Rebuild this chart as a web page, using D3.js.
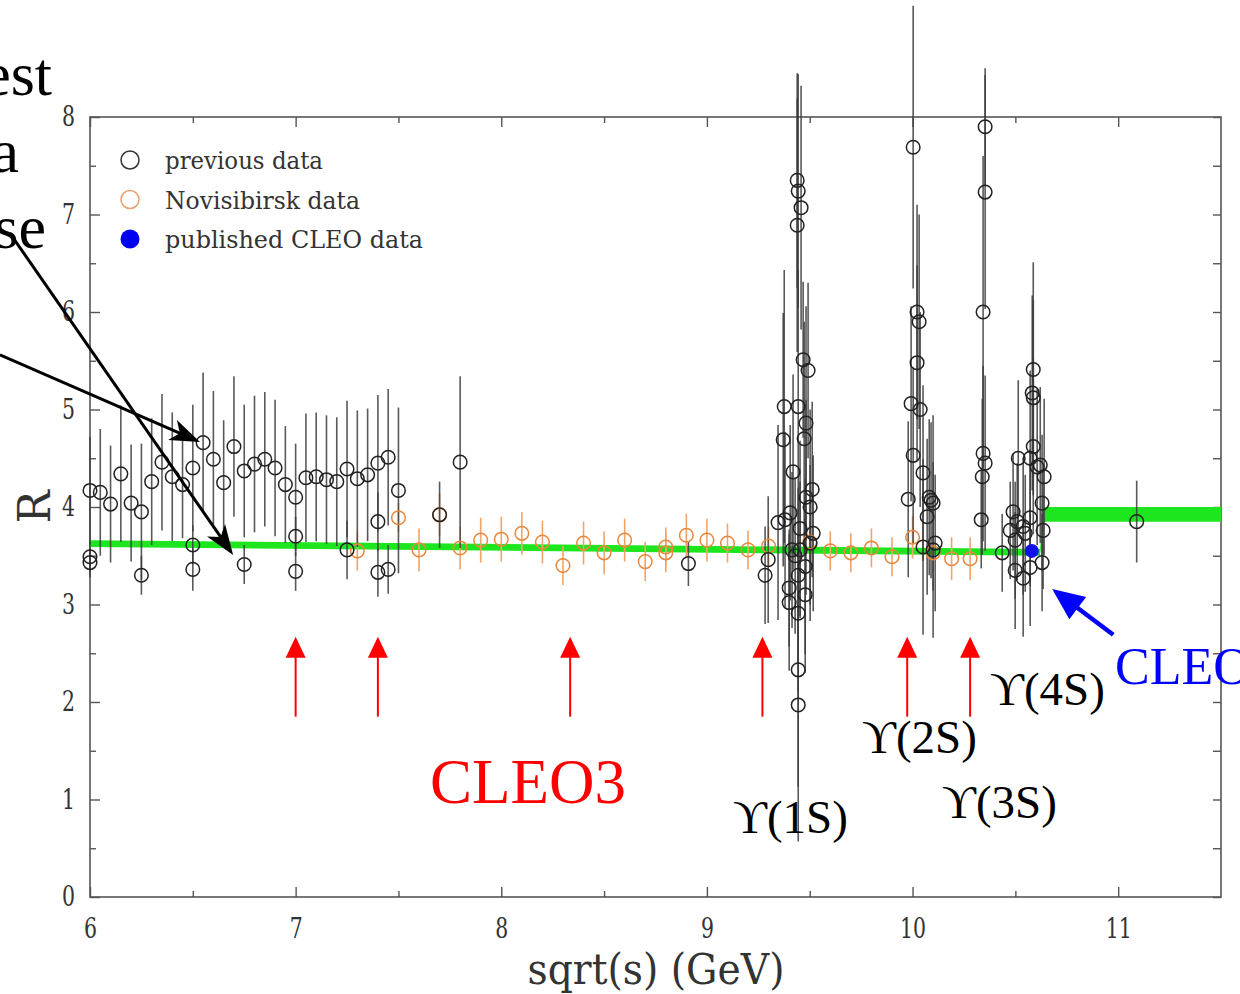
<!DOCTYPE html>
<html>
<head>
<meta charset="utf-8">
<script src="https://cdnjs.cloudflare.com/ajax/libs/d3/7.8.5/d3.min.js"></script>
<style>
	body { margin: 0; background: #fff; }
	svg { display: block; }
</style>
</head>
<body>
<svg id="chart" width="1240" height="994"></svg>
<script>
// previous data (black open circles)
const prevX = [
	6.00, 6.00, 6.00, 6.05, 6.10, 6.15, 6.20, 6.25, 6.25, 6.30, 6.35, 6.40, 6.45, 6.50, 6.50, 6.50,
	6.55, 6.60, 6.65, 6.70, 6.75, 6.75, 6.80, 6.85, 6.90, 6.95, 7.00, 7.00, 7.00, 7.05, 7.10, 7.15,
	7.20, 7.25, 7.25, 7.30, 7.35, 7.40, 7.40, 7.40, 7.45, 7.45, 7.50, 7.70, 7.80, 8.91,
	// Y(1S)
	9.283, 9.298, 9.346, 9.371, 9.376, 9.380, 9.400, 9.400, 9.405, 9.414, 9.419, 9.429, 9.439, 9.444,
	9.439, 9.458, 9.444, 9.444, 9.444, 9.444, 9.444, 9.453, 9.453, 9.468, 9.473, 9.478, 9.478, 9.482,
	9.482, 9.492, 9.502, 9.502, 9.512, 9.517,
	// Y(2S)
	10.003, 10.022, 10.032, 10.022, 9.993, 10.037, 10.003, 10.051, 9.979, 10.081, 10.090, 10.071,
	10.110, 10.051, 10.100, 10.100,
	// Y(3S)
	10.353, 10.353, 10.343, 10.343, 10.353, 10.339, 10.334,
	// Y(4S) and above
	10.436, 10.475, 10.489, 10.499, 10.499, 10.509, 10.514, 10.538, 10.538, 10.548, 10.572, 10.572,
	10.572, 10.582, 10.587, 10.587, 10.587, 10.606, 10.621, 10.630, 10.630, 10.635, 10.640, 11.090
];
const prevR = [
	4.17, 3.49, 3.43, 4.15, 4.03, 4.34, 4.04, 3.95, 3.30, 4.26, 4.46, 4.31, 4.23, 4.40, 3.61, 3.36,
	4.66, 4.49, 4.25, 4.62, 4.37, 3.41, 4.44, 4.49, 4.40, 4.23, 4.10, 3.70, 3.34, 4.30, 4.31, 4.28,
	4.26, 4.39, 3.56, 4.29, 4.33, 4.45, 3.85, 3.33, 4.51, 3.36, 4.17, 3.92, 4.46, 3.42,
	3.30, 3.46, 3.84, 4.69, 5.03, 3.87, 3.17, 3.02, 3.94, 3.56, 4.36, 3.50, 7.35, 7.24,
	6.89, 7.07, 5.03, 3.30, 2.91, 2.33, 1.97, 3.78, 3.56, 5.51, 4.70, 3.39, 3.10, 4.86,
	4.10, 5.40, 4.00, 3.63, 4.18, 3.73,
	7.69, 6.00, 5.90, 5.48, 5.06, 5.00, 4.53, 4.35, 4.08, 4.10, 4.07, 3.90,
	3.63, 3.59, 3.56, 4.04,
	7.90, 7.23, 6.00, 4.55, 4.45, 4.31, 3.87,
	3.53, 3.76, 3.95, 3.66, 3.35, 3.85, 4.50, 3.80, 3.27, 3.73, 4.50, 3.89,
	3.38, 5.17, 5.12, 5.41, 4.62, 4.41, 4.43, 4.04, 3.43, 3.76, 4.31, 3.85
];
const prevErr = [
	0.55, 0.15, 0.15, 0.65, 0.60, 0.70, 0.60, 0.70, 0.20, 0.65, 0.70, 0.66, 0.55, 0.65, 0.20, 0.22,
	0.72, 0.70, 0.64, 0.72, 0.68, 0.20, 0.70, 0.69, 0.70, 0.60, 0.55, 0.20, 0.20, 0.66, 0.66, 0.66,
	0.66, 0.70, 0.30, 0.70, 0.68, 0.70, 0.30, 0.25, 0.70, 0.25, 0.85, 0.34, 0.88, 0.23,
	0.50, 0.65, 1.00, 1.30, 1.40, 0.90, 0.60, 0.70, 0.90, 0.80, 1.00, 0.80, 1.10, 1.20,
	1.30, 1.25, 1.40, 0.90, 0.80, 1.20, 1.40, 0.90, 0.70, 0.80, 1.20, 0.90, 0.80, 1.20,
	1.00, 0.90, 1.00, 0.80, 0.90, 0.80,
	1.45, 1.10, 1.10, 1.00, 1.00, 1.00, 0.90, 0.90, 0.80, 0.80, 0.80, 0.80,
	0.70, 0.90, 0.90, 0.90,
	0.60, 1.20, 1.60, 0.90, 0.90, 0.80, 0.50,
	0.40, 0.50, 0.60, 0.60, 0.60, 0.60, 0.80, 0.70, 0.60, 0.60, 0.90, 0.70,
	0.60, 1.00, 1.00, 1.10, 0.90, 0.80, 0.80, 0.70, 0.50, 0.60, 0.80, 0.42
];

// Novisibirsk data (orange open circles)
const novX = [
	7.30, 7.50, 7.60, 7.70, 7.80, 7.90, 8.00, 8.10, 8.20, 8.30, 8.40, 8.50, 8.60, 8.70, 8.80, 8.80,
	8.90, 9.00, 9.10, 9.20, 9.30, 9.50, 9.60, 9.70, 9.80, 9.90, 10.00, 10.10, 10.19, 10.28
];
const novR = [
	3.55, 3.89, 3.56, 3.92, 3.58, 3.66, 3.67, 3.73, 3.64, 3.40, 3.63, 3.53, 3.66, 3.44, 3.59, 3.53,
	3.71, 3.66, 3.63, 3.56, 3.60, 3.64, 3.55, 3.53, 3.58, 3.49, 3.69, 3.53, 3.47, 3.47
];
const novErr = [
	0.20, 0.15, 0.22, 0.22, 0.22, 0.23, 0.23, 0.22, 0.22, 0.20, 0.22, 0.22, 0.22, 0.20, 0.20, 0.20,
	0.22, 0.22, 0.20, 0.20, 0.20, 0.22, 0.20, 0.20, 0.20, 0.20, 0.22, 0.20, 0.22, 0.22
];

// published CLEO data (blue dot)
const cleoX = [10.58];
const cleoR = [3.55];

// green fit line + band above 4S
const fitX = [6.00, 10.62, 10.64, 11.50];
const fitLo = [3.59, 3.50, 3.85, 3.85];
const fitHi = [3.66, 3.57, 4.00, 4.00];

// red arrows (CLEO3 scan points)
const scanE = [7.00, 7.40, 8.335, 9.27, 9.974, 10.28];

const xTicks = [6, 7, 8, 9, 10, 11];
const xMinor = [6.5, 7.5, 8.5, 9.5, 10.5];
const yTicks = [0, 1, 2, 3, 4, 5, 6, 7, 8];
const yMinor = [0.5, 1.5, 2.5, 3.5, 4.5, 5.5, 6.5, 7.5];

const svg = d3.select("#chart");

const x = d3.scaleLinear().domain([6, 11.5]).range([90, 1221]);
const y = d3.scaleLinear().domain([0, 8]).range([897, 117]);

const axisCol = "#555";
const labelFont = "'DejaVu Serif', serif";
const timesFont = "'Liberation Serif', 'DejaVu Serif', serif";

// frame
svg.append("rect")
	.attr("x", x(6)).attr("y", y(8))
	.attr("width", x(11.5) - x(6)).attr("height", y(0) - y(8))
	.attr("fill", "none").attr("stroke", axisCol).attr("stroke-width", 1.6);

function styleAxis(g) {
	g.select(".domain").remove();
	g.selectAll(".tick line").attr("stroke", axisCol).attr("stroke-width", 1.4);
}

const gXb = svg.append("g").attr("transform", `translate(0,${y(0)})`)
	.call(d3.axisBottom(x).tickValues(xTicks).tickSizeInner(-10).tickSizeOuter(0).tickPadding(22)
		.tickFormat(d3.format("d")))
	.call(styleAxis);
gXb.selectAll("text")
	.attr("font-family", labelFont).attr("font-size", 27).attr("fill", "#333")
	.attr("dy", "0.72em")
	.attr("textLength", d => String(d).length * 13).attr("lengthAdjust", "spacingAndGlyphs");

svg.append("g").attr("transform", `translate(0,${y(0)})`)
	.call(d3.axisBottom(x).tickValues(xMinor).tickSizeInner(-6).tickSizeOuter(0).tickFormat(""))
	.call(styleAxis);
svg.append("g").attr("transform", `translate(0,${y(8)})`)
	.call(d3.axisTop(x).tickValues(xTicks).tickSizeInner(-10).tickSizeOuter(0).tickFormat(""))
	.call(styleAxis);
svg.append("g").attr("transform", `translate(0,${y(8)})`)
	.call(d3.axisTop(x).tickValues(xMinor).tickSizeInner(-6).tickSizeOuter(0).tickFormat(""))
	.call(styleAxis);

const gYl = svg.append("g").attr("transform", `translate(${x(6)},0)`)
	.call(d3.axisLeft(y).tickValues(yTicks).tickSizeInner(-10).tickSizeOuter(0).tickPadding(15)
		.tickFormat(d3.format("d")))
	.call(styleAxis);
gYl.selectAll("text")
	.attr("font-family", labelFont).attr("font-size", 27).attr("fill", "#333")
	.attr("textLength", 13).attr("lengthAdjust", "spacingAndGlyphs");

svg.append("g").attr("transform", `translate(${x(6)},0)`)
	.call(d3.axisLeft(y).tickValues(yMinor).tickSizeInner(-6).tickSizeOuter(0).tickFormat(""))
	.call(styleAxis);
svg.append("g").attr("transform", `translate(${x(11.5)},0)`)
	.call(d3.axisRight(y).tickValues(yTicks.concat(yMinor)).tickSizeInner(-8).tickSizeOuter(0).tickFormat(""))
	.call(styleAxis);

// axis titles
svg.append("text")
	.attr("x", 656).attr("y", 984)
	.attr("text-anchor", "middle")
	.attr("font-family", labelFont).attr("font-size", 42).attr("fill", "#333")
	.attr("textLength", 257).attr("lengthAdjust", "spacingAndGlyphs")
	.text("sqrt(s) (GeV)");

svg.append("text")
	.attr("transform", "translate(50,507) rotate(-90)")
	.attr("text-anchor", "middle")
	.attr("font-family", labelFont).attr("font-size", 44).attr("fill", "#333")
	.text("R");

// fit line and band
const area = d3.area()
	.x((d, i) => x(fitX[i]))
	.y0((d, i) => y(fitLo[i]))
	.y1((d, i) => y(fitHi[i]));
svg.append("path")
	.datum(fitX)
	.attr("d", area)
	.attr("fill", "#1ee61e");

const prev = prevX.map((d, i) => ({x: d, r: prevR[i], e: prevErr[i]}));
const nov = novX.map((d, i) => ({x: d, r: novR[i], e: novErr[i]}));
const cleo = cleoX.map((d, i) => ({x: d, r: cleoR[i]}));

const plot = svg.append("g");

plot.selectAll("line.eb-nov").data(nov).join("line")
	.attr("class", "eb-nov")
	.attr("x1", d => x(d.x)).attr("x2", d => x(d.x))
	.attr("y1", d => y(d.r + d.e)).attr("y2", d => y(d.r - d.e))
	.attr("stroke", "#f2a468").attr("stroke-width", 1.6);

plot.selectAll("line.eb-prev").data(prev).join("line")
	.attr("class", "eb-prev")
	.attr("x1", d => x(d.x)).attr("x2", d => x(d.x))
	.attr("y1", d => y(d.r + d.e)).attr("y2", d => y(d.r - d.e))
	.attr("stroke", "#3c3c3c").attr("stroke-width", 1.6).attr("stroke-opacity", 0.85);

plot.selectAll("circle.nov").data(nov).join("circle")
	.attr("class", "nov")
	.attr("cx", d => x(d.x)).attr("cy", d => y(d.r)).attr("r", 6.8)
	.attr("fill", "none").attr("stroke", "#e8883e").attr("stroke-width", 1.5);

plot.selectAll("circle.prev").data(prev).join("circle")
	.attr("class", "prev")
	.attr("cx", d => x(d.x)).attr("cy", d => y(d.r)).attr("r", 6.8)
	.attr("fill", "none").attr("stroke", "#222").attr("stroke-width", 1.5);

plot.selectAll("circle.cleo").data(cleo).join("circle")
	.attr("class", "cleo")
	.attr("cx", d => x(d.x)).attr("cy", d => y(d.r)).attr("r", 7)
	.attr("fill", "#1010ee");

// legend
const legend = [
	{label: "previous data", fill: "none", stroke: "#333", len: 158},
	{label: "Novisibirsk data", fill: "none", stroke: "#e8a070", len: 195},
	{label: "published CLEO data", fill: "#0000f0", stroke: "none", len: 258}
];
const lg = svg.append("g").selectAll("g").data(legend).join("g")
	.attr("transform", (d, i) => `translate(130,${160 + i * 39.5})`);
lg.append("circle")
	.attr("r", (d, i) => i === 2 ? 9.5 : 9)
	.attr("fill", d => d.fill).attr("stroke", d => d.stroke).attr("stroke-width", 1.5);
lg.append("text")
	.attr("x", 35).attr("y", 9)
	.attr("font-family", labelFont).attr("font-size", 25).attr("fill", "#333")
	.attr("textLength", d => d.len).attr("lengthAdjust", "spacingAndGlyphs")
	.text(d => d.label);

// arrows
function arrowHead(x1, y1, x2, y2, len, half, notch) {
	const a = Math.atan2(y2 - y1, x2 - x1);
	const c = Math.cos(a), s = Math.sin(a);
	const bx = x2 - len * c, by = y2 - len * s;
	const nx = x2 - (len - notch) * c, ny = y2 - (len - notch) * s;
	return `M${x2},${y2}L${bx - half * s},${by + half * c}L${nx},${ny}L${bx + half * s},${by - half * c}Z`;
}

function drawArrow(e1, r1, e2, r2, col, w, len, half, notch) {
	const x1 = x(e1), y1 = y(r1), x2 = x(e2), y2 = y(r2);
	const a = Math.atan2(y2 - y1, x2 - x1);
	const stop = len - notch - 1;
	svg.append("line")
		.attr("x1", x1).attr("y1", y1)
		.attr("x2", x2 - stop * Math.cos(a)).attr("y2", y2 - stop * Math.sin(a))
		.attr("stroke", col).attr("stroke-width", w);
	svg.append("path")
		.attr("d", arrowHead(x1, y1, x2, y2, len, half, notch))
		.attr("fill", col);
}

scanE.forEach(e => drawArrow(e, 1.85, e, 2.67, "#ff0000", 2, 21, 10, 0));

drawArrow(5.562, 5.56, 6.535, 4.667, "#000", 3, 30, 11, 8);
drawArrow(5.61, 6.81, 6.696, 3.508, "#000", 3, 30, 11, 8);
drawArrow(10.976, 2.69, 10.679, 3.16, "#0000ff", 4.5, 32, 14, 0);

// annotation texts (left ones are cut by the edge, as in the original slide)
const notes = [
	{t: "est", x: 52, y: 95, size: 62, col: "#000", anchor: "end"},
	{t: "a", x: 19, y: 172, size: 62, col: "#000", anchor: "end"},
	{t: "se", x: 46, y: 248, size: 62, col: "#000", anchor: "end"},
	{t: "CLEO3", x: 430, y: 803, size: 63, col: "#ff0000", anchor: "start"},
	{t: "\u03d2(1S)", x: 733, y: 833, size: 47, col: "#000", anchor: "start"},
	{t: "\u03d2(2S)", x: 862, y: 753, size: 47, col: "#000", anchor: "start"},
	{t: "\u03d2(3S)", x: 942, y: 818, size: 47, col: "#000", anchor: "start"},
	{t: "\u03d2(4S)", x: 990, y: 705, size: 47, col: "#000", anchor: "start"},
	{t: "CLEO", x: 1115, y: 684, size: 52, col: "#0000ff", anchor: "start"}
];
svg.append("g").selectAll("text").data(notes).join("text")
	.attr("x", d => d.x).attr("y", d => d.y)
	.attr("text-anchor", d => d.anchor)
	.attr("font-family", timesFont).attr("font-size", d => d.size)
	.attr("fill", d => d.col)
	.text(d => d.t);
</script>
</body>
</html>
